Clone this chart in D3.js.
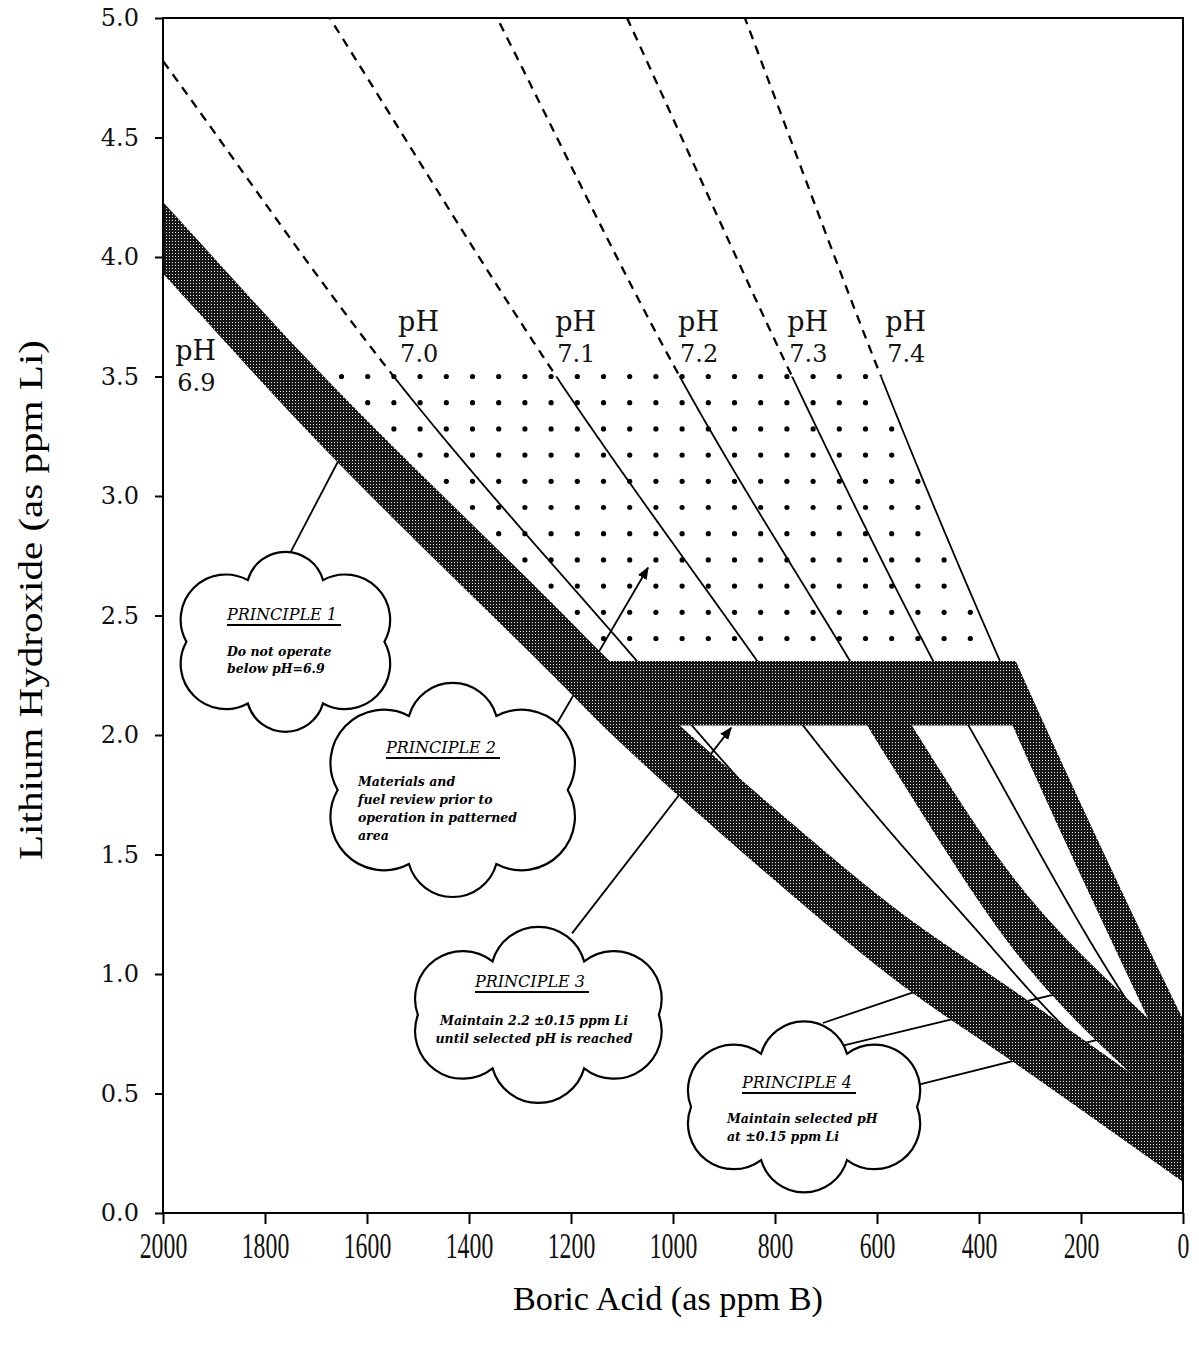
<!DOCTYPE html>
<html><head><meta charset="utf-8">
<script src="https://cdn.jsdelivr.net/npm/d3@7"></script>
<style>body{margin:0;background:#fff;} svg{display:block}</style>
</head><body>
<svg id="chart" width="1199" height="1349"></svg>
<script>
// ---------------- data ----------------
const boronTicks = [2000, 1800, 1600, 1400, 1200, 1000, 800, 600, 400, 200, 0];
const lithiumTicks = [0, 0.5, 1, 1.5, 2, 2.5, 3, 3.5, 4, 4.5, 5];
const phNames = ["6.9", "7.0", "7.1", "7.2", "7.3", "7.4"];
// [boron ppm, lithium ppm] points along each pH curve
const ph69 = [[2000, 4.08], [1698, 3.38], [1222, 2.37], [1124, 2.16], [706, 1.37], [549, 1.10], [325, 0.77], [0, 0.28]];
const ph70 = [[2000, 4.82], [1555, 3.52], [1071, 2.31], [855, 1.78], [706, 1.46], [325, 0.86], [0, 0.40]];
const ph71 = [[1673, 5.00], [1235, 3.52], [835, 2.31], [745, 2.04], [424, 1.23], [182, 0.68], [0, 0.45]];
const ph72 = [[1345, 5.00], [992, 3.52], [653, 2.31], [576, 2.04], [324, 1.23], [0, 0.52]];
const ph73 = [[1090, 5.00], [771, 3.52], [490, 2.31], [418, 2.03], [65, 0.75], [0, 0.60]];
const ph74 = [[859, 5.00], [594, 3.51], [359, 2.31], [59, 0.92], [0, 0.66]];
const bandHalfWidth = 0.15;          // +/- 0.15 ppm Li
const coordinationLi = [2.04, 2.31]; // 2.2 +/- 0.15 ppm Li band
const maxLi = 3.5;                   // upper Li limit (dashed above)
const principleTitles = ["PRINCIPLE 1", "PRINCIPLE 2", "PRINCIPLE 3", "PRINCIPLE 4"];
const principleTexts = [
  ["Do not operate", "below pH=6.9"],
  ["Materials and", "fuel review prior to", "operation in patterned", "area"],
  ["Maintain 2.2 \u00b10.15 ppm Li", "until selected pH is reached"],
  ["Maintain selected pH", "at \u00b10.15 ppm Li"]
];
// pointer lines: [fromB, fromLi, toB, toLi]
const pointerLines = [
  [1751, 2.76, 1653, 3.16],
  [1227, 2.05, 1049, 2.70],
  [1198, 1.17, 886, 2.03],
  [706, 0.795, 506, 0.94],
  [667, 0.70, 241, 0.92],
  [522, 0.535, 45, 0.79]
];
const pointerArrow = [false, true, true, false, false, false];

// ---------------- layout ----------------
const x = d3.scaleLinear().domain([2000, 0]).range([163, 1183]);
const y = d3.scaleLinear().domain([0, 5]).range([1213, 18]);
const svg = d3.select("#chart");
const defs = svg.append("defs");

// monotone cubic interpolation through the read points
function monotone(pts) {
  const p = pts.slice().sort((a, b) => a[0] - b[0]);
  const n = p.length, xs = p.map(d => d[0]), ys = p.map(d => d[1]);
  const d = [], m = [];
  for (let i = 0; i < n - 1; i++) d.push((ys[i + 1] - ys[i]) / (xs[i + 1] - xs[i]));
  m[0] = d[0]; m[n - 1] = d[n - 2];
  for (let i = 1; i < n - 1; i++) m[i] = d[i - 1] * d[i] <= 0 ? 0 : (d[i - 1] + d[i]) / 2;
  for (let i = 0; i < n - 1; i++) {
    const a = m[i] / d[i], b = m[i + 1] / d[i], s = a * a + b * b;
    if (s > 9) { const t = 3 / Math.sqrt(s); m[i] = t * a * d[i]; m[i + 1] = t * b * d[i]; }
  }
  return X => {
    if (X <= xs[0]) return ys[0] + m[0] * (X - xs[0]);
    if (X >= xs[n - 1]) return ys[n - 1] + m[n - 1] * (X - xs[n - 1]);
    let i = Math.min(d3.bisectRight(xs, X) - 1, n - 2);
    const h = xs[i + 1] - xs[i], t = (X - xs[i]) / h, t2 = t * t, t3 = t2 * t;
    return (2 * t3 - 3 * t2 + 1) * ys[i] + (t3 - 2 * t2 + t) * h * m[i] + (-2 * t3 + 3 * t2) * ys[i + 1] + (t3 - t2) * h * m[i + 1];
  };
}
const curves = [ph69, ph70, ph71, ph72, ph73, ph74].map(monotone);
const f69 = curves[0], f72 = curves[3], f74 = curves[5];
const Bs = d3.range(0, 2000.01, 2);

// clip paths
const [X0, X1] = x.range(), [Y1, Y0] = y.range();
defs.append("clipPath").attr("id", "plot").append("rect").attr("x", X0).attr("y", Y0).attr("width", X1 - X0).attr("height", Y1 - Y0);
defs.append("clipPath").attr("id", "above").append("rect").attr("x", X0).attr("y", Y0).attr("width", X1 - X0).attr("height", y(maxLi) - Y0);
defs.append("clipPath").attr("id", "below").append("rect").attr("x", X0).attr("y", y(maxLi)).attr("width", X1 - X0).attr("height", Y1 - y(maxLi));
defs.append("clipPath").attr("id", "underCoord").append("rect").attr("x", X0).attr("y", y(coordinationLi[1])).attr("width", X1 - X0).attr("height", Y1 - y(coordinationLi[1]));

// halftone pattern for the shaded bands
const pat = defs.append("pattern").attr("id", "shade").attr("patternUnits", "userSpaceOnUse").attr("width", 3).attr("height", 3);
pat.append("rect").attr("width", 3).attr("height", 3).attr("fill", "#161616");
pat.append("rect").attr("x", 1).attr("y", 1).attr("width", 1).attr("height", 1).attr("fill", "#e6e6e6");

// arrow marker
defs.append("marker").attr("id", "arrow").attr("viewBox", "0 0 10 10").attr("refX", 9).attr("refY", 5)
  .attr("markerWidth", 7).attr("markerHeight", 7).attr("orient", "auto")
  .append("path").attr("d", "M0,1 L10,5 L0,9 Z").attr("fill", "#000");

const plot = svg.append("g").attr("clip-path", "url(#plot)");

// patterned (dotted) area
const dotStep = 26.2, dotX0 = x(1650), dotY0 = y(maxLi);
const dots = [];
for (let j = 0; j < 14; j++) for (let i = -2; i < 36; i++) {
  const px = dotX0 + i * dotStep, py = dotY0 + j * dotStep;
  const B = x.invert(px), Li = y.invert(py);
  if (Li <= maxLi + 1e-6 && Li >= coordinationLi[1] + 0.06 && Li >= f69(B) + bandHalfWidth + 0.04 && Li <= f74(B) - 0.02) dots.push([B, Li]);
}
plot.append("g").selectAll("circle").data(dots).join("circle")
  .attr("cx", d => x(d[0])).attr("cy", d => y(d[1])).attr("r", 2.6).attr("fill", "#000");

// pointer lines (drawn under bands)
pointerLines.forEach((p, i) => {
  plot.append("line").attr("x1", x(p[0])).attr("y1", y(p[1])).attr("x2", x(p[2])).attr("y2", y(p[3]))
    .attr("stroke", "#000").attr("stroke-width", 1.8)
    .attr("marker-end", pointerArrow[i] ? "url(#arrow)" : null);
});

// pH curves: dashed above maxLi, solid below
const line = d3.line().x(d => x(d[0])).y(d => y(d[1]));
curves.slice(1).forEach(f => {
  const pts = Bs.map(b => [b, f(b)]).filter(d => d[1] < 5.4);
  plot.append("path").attr("d", line(pts)).attr("clip-path", "url(#above)")
    .attr("fill", "none").attr("stroke", "#000").attr("stroke-width", 2.3).attr("stroke-dasharray", "9,7");
  plot.append("path").attr("d", line(pts)).attr("clip-path", "url(#below)")
    .attr("fill", "none").attr("stroke", "#000").attr("stroke-width", 1.8);
});

// shaded bands
const band = f => d3.area().x(b => x(b)).y0(b => y(f(b) - bandHalfWidth)).y1(b => y(f(b) + bandHalfWidth));
plot.append("path").attr("d", band(f69)(Bs)).attr("fill", "url(#shade)");
const gUnder = plot.append("g").attr("clip-path", "url(#underCoord)");
gUnder.append("path").attr("d", band(f72)(Bs.filter(b => b < 800))).attr("fill", "url(#shade)");
gUnder.append("path").attr("d", band(f74)(Bs.filter(b => b < 500))).attr("fill", "url(#shade)");
const coordArea = d3.area()
  .defined(b => Math.max(coordinationLi[0], f69(b)) < Math.min(coordinationLi[1], f74(b)))
  .x(b => x(b))
  .y0(b => y(Math.max(coordinationLi[0], f69(b))))
  .y1(b => y(Math.min(coordinationLi[1], f74(b))));
plot.append("path").attr("d", coordArea(Bs)).attr("fill", "url(#shade)");

// frame & axes
svg.append("rect").attr("x", X0).attr("y", Y0).attr("width", X1 - X0).attr("height", Y1 - Y0)
  .attr("fill", "none").attr("stroke", "#000").attr("stroke-width", 2);
const yAxis = svg.append("g").attr("transform", `translate(${X0},0)`)
  .call(d3.axisLeft(y).tickValues(lithiumTicks).tickSize(8).tickPadding(16).tickFormat(d3.format(".1f")));
yAxis.select(".domain").remove();
yAxis.selectAll("line").attr("stroke-width", 2);
yAxis.selectAll("text").attr("font-family", "DejaVu Serif").attr("font-size", 24).attr("fill", "#111");
const xAxis = svg.append("g").attr("transform", `translate(0,${Y1})`)
  .call(d3.axisBottom(x).tickValues(boronTicks).tickSize(11).tickPadding(8).tickFormat(d3.format("d")));
xAxis.select(".domain").remove();
xAxis.selectAll("line").attr("stroke-width", 2);
xAxis.selectAll("text").attr("font-family", "Liberation Serif").attr("font-size", 36).attr("fill", "#111")
  .attr("transform", "scale(0.66,1)");

svg.append("text").attr("x", (X0 + X1) / 2 - 5).attr("y", 1310).attr("text-anchor", "middle")
  .attr("font-family", "Liberation Serif").attr("font-size", 34).attr("textLength", 310).attr("lengthAdjust", "spacingAndGlyphs")
  .text("Boric Acid (as ppm B)");
svg.append("text").attr("transform", `translate(42,600) rotate(-90)`).attr("text-anchor", "middle")
  .attr("font-family", "Liberation Serif").attr("font-size", 34).attr("textLength", 520).attr("lengthAdjust", "spacingAndGlyphs")
  .text("Lithium Hydroxide (as ppm Li)");

// pH labels (anchored in data coordinates)
const phLabelPos = [[1976, 3.57, 3.44], [1539, 3.69, 3.56], [1231, 3.69, 3.56], [990, 3.69, 3.56], [776, 3.69, 3.56], [584, 3.69, 3.56]];
phNames.forEach((nm, i) => {
  const p = phLabelPos[i];
  svg.append("text").attr("x", x(p[0])).attr("y", y(p[1])).attr("font-family", "DejaVu Serif").attr("font-size", 27).attr("fill", "#111").text("pH");
  svg.append("text").attr("x", x(p[0]) + 2).attr("y", y(p[2])).attr("font-family", "DejaVu Serif").attr("font-size", 24).attr("fill", "#111").text(nm);
});

// clouds
const clouds = [
  {B: 1760, Li: 2.39, W: 204, H: 180},
  {B: 1432, Li: 1.77, W: 236, H: 214},
  {B: 1264, Li: 0.829, W: 247, H: 176},
  {B: 743, Li: 0.444, W: 232, H: 171}
];
function cloudPath(cx, cy, W, H) {
  const a = W / 2 - 3, c = 0.38 * a, b = H / 2 - 0.377 * 2 * c;
  const P = [[a, 0], [c, b], [-c, b], [-a, 0], [-c, -b], [c, -b]].map(p => [cx + p[0], cy + p[1]]);
  let d = `M${P[0][0]},${P[0][1]}`;
  for (let k = 0; k < 6; k++) {
    const p0 = P[k], p1 = P[(k + 1) % 6];
    const r = 0.52 * Math.hypot(p1[0] - p0[0], p1[1] - p0[1]);
    d += ` A${r},${r} 0 0 1 ${p1[0]},${p1[1]}`;
  }
  return d + "Z";
}
const textCfg = [
  {title: [282, 620], lines: [[227, 656], [227, 673]], anchor: "start"},
  {title: [441, 753], lines: [[358, 786], [358, 804], [358, 822], [358, 840]], anchor: "start"},
  {title: [530, 987], lines: [[534, 1025], [534, 1043]], anchor: "middle"},
  {title: [797, 1088], lines: [[727, 1123], [727, 1141]], anchor: "start"}
];
clouds.forEach((c, i) => {
  const cx = x(c.B), cy = y(c.Li);
  svg.append("path").attr("d", cloudPath(cx, cy, c.W, c.H)).attr("fill", "#fff").attr("stroke", "#000").attr("stroke-width", 2.2);
  const tc = textCfg[i];
  const tt = svg.append("text").attr("x", tc.title[0]).attr("y", tc.title[1]).attr("text-anchor", "middle")
    .attr("font-family", "DejaVu Serif").attr("font-style", "italic").attr("font-size", 16).text(principleTitles[i]);
  const w = tt.node().getComputedTextLength();
  svg.append("line").attr("x1", tc.title[0] - w / 2).attr("x2", tc.title[0] + w / 2 + 4)
    .attr("y1", tc.title[1] + 5).attr("y2", tc.title[1] + 5).attr("stroke", "#000").attr("stroke-width", 1.8);
  principleTexts[i].forEach((s, k) => {
    svg.append("text").attr("x", tc.lines[k][0]).attr("y", tc.lines[k][1]).attr("text-anchor", tc.anchor)
      .attr("font-family", "DejaVu Serif").attr("font-style", "italic").attr("font-weight", "bold").attr("font-size", 12.5).text(s);
  });
});
</script>
</body></html>
